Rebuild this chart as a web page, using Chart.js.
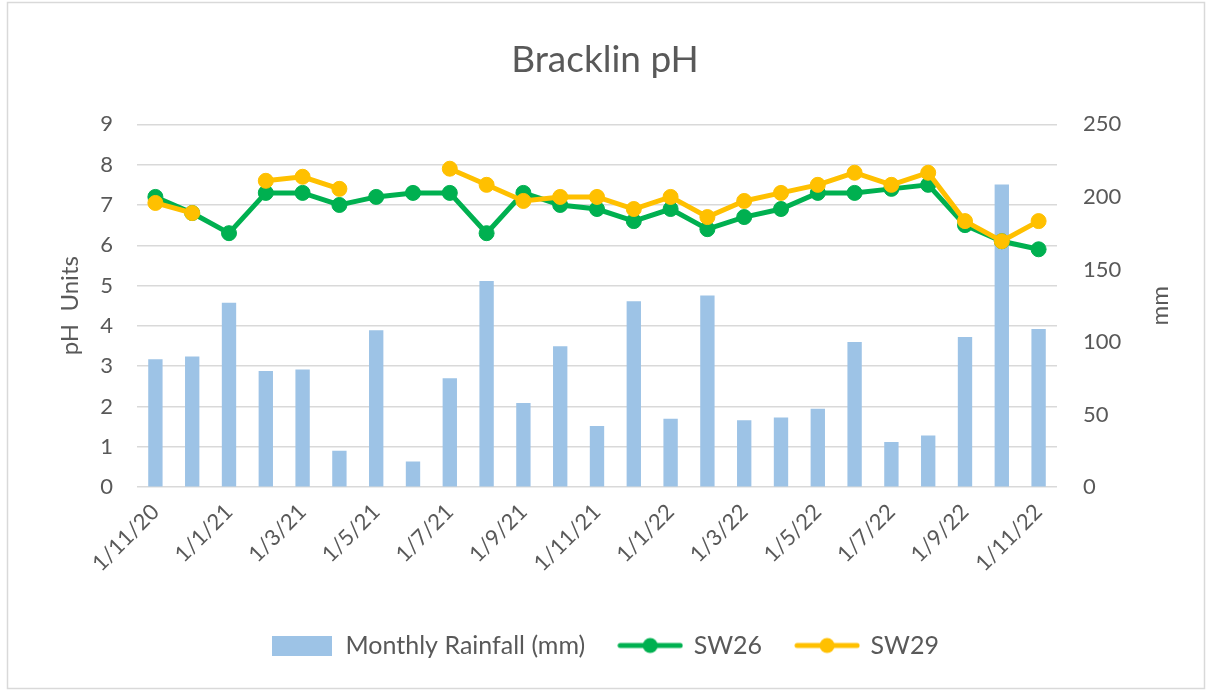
<!DOCTYPE html>
<html>
<head>
<meta charset="utf-8">
<script src="https://cdn.jsdelivr.net/npm/chart.js@4.4.1/dist/chart.umd.min.js"></script>
<style>
  html, body { margin: 0; padding: 0; background: #fff; }
  #wrap { width: 1210px; height: 693px; position: relative; }
</style>
</head>
<body>
<div id="wrap"><canvas id="ph-chart" width="1210" height="693"></canvas></div>
<script>
// months, Nov 2020 .. Nov 2022
var months = [
    '1/11/20', '1/12/20',
    '1/1/21', '1/2/21', '1/3/21', '1/4/21', '1/5/21', '1/6/21',
    '1/7/21', '1/8/21', '1/9/21', '1/10/21', '1/11/21', '1/12/21',
    '1/1/22', '1/2/22', '1/3/22', '1/4/22', '1/5/22', '1/6/22',
    '1/7/22', '1/8/22', '1/9/22', '1/10/22', '1/11/22'
];

var rainfall = [
    88, 90, 127, 80, 81, 25, 108, 17.5, 75, 142, 58, 97, 42,
    128, 47, 132, 46, 48, 54, 100, 31, 35.5, 103.5, 208.5, 109
];

var sw26 = [
    7.2, 6.8, 6.3, 7.3, 7.3, 7.0, 7.2, 7.3, 7.3, 6.3, 7.3, 7.0, 6.9,
    6.6, 6.9, 6.4, 6.7, 6.9, 7.3, 7.3, 7.4, 7.5, 6.5, 6.1, 5.9
];

var sw29 = [
    7.05, 6.8, null, 7.6, 7.7, 7.4, null, null, 7.9, 7.5, 7.1, 7.2, 7.2,
    6.9, 7.2, 6.7, 7.1, 7.3, 7.5, 7.8, 7.5, 7.8, 6.6, 6.1, 6.6
];

var phTicks = { min: 0, max: 9, step: 1 };
var mmTicks = { min: 0, max: 250, step: 50 };

const textColor = '#595959';
const fontFamily = 'Lato, "Open Sans", sans-serif';

Chart.defaults.font.family = fontFamily;
Chart.defaults.color = textColor;

// legend markers, drawn once on small canvases
function makeBoxMarker(color)
{
    const c = document.createElement('canvas');
    c.width = 60;
    c.height = 20;
    const g = c.getContext('2d');
    g.fillStyle = color;
    g.fillRect(0, 0, 60, 20);
    return c;
}

function makeLineMarker(color)
{
    const c = document.createElement('canvas');
    c.width = 66;
    c.height = 18;
    const g = c.getContext('2d');
    g.strokeStyle = color;
    g.lineWidth = 5;
    g.lineCap = 'round';
    g.beginPath();
    g.moveTo(3, 9);
    g.lineTo(63, 9);
    g.stroke();
    g.fillStyle = color;
    g.beginPath();
    g.arc(33, 9, 7.5, 0, Math.PI * 2);
    g.fill();
    return c;
}

const markers = [
    makeBoxMarker('#9DC3E6'),
    makeLineMarker('#00B050'),
    makeLineMarker('#FFC000')
];

// outer frame + right axis title that reads bottom to top like Excel
const framePlugin = {
    id: 'frame',
    beforeDraw(chart) {
        const ctx = chart.ctx;
        ctx.save();
        ctx.fillStyle = '#fff';
        ctx.fillRect(0, 0, chart.width, chart.height);
        ctx.strokeStyle = '#D9D9D9';
        ctx.lineWidth = 1.5;
        ctx.strokeRect(7.5, 2.5, chart.width - 13, chart.height - 7);
        ctx.restore();
    },
    afterDraw(chart) {
        const ctx = chart.ctx;
        const area = chart.chartArea;
        ctx.save();
        ctx.translate(1160, (area.top + area.bottom) / 2);
        ctx.rotate(-Math.PI / 2);
        ctx.fillStyle = textColor;
        ctx.font = '24px ' + fontFamily;
        ctx.textAlign = 'center';
        ctx.textBaseline = 'middle';
        ctx.fillText('mm', 0, 0);
        ctx.restore();
    }
};

const ctx = document.getElementById('ph-chart').getContext('2d');

new Chart(ctx, {
    type: 'bar',
    data: {
        labels: months,
        datasets: [
            {
                type: 'bar',
                label: 'Monthly Rainfall (mm)',
                data: rainfall,
                yAxisID: 'yMM',
                backgroundColor: '#9DC3E6',
                barPercentage: 0.39,
                categoryPercentage: 1,
                order: 3,
            },
            {
                type: 'line',
                label: 'SW26',
                data: sw26,
                yAxisID: 'yPH',
                borderColor: '#00B050',
                backgroundColor: '#00B050',
                borderWidth: 5,
                pointRadius: 7.5,
                pointBorderWidth: 1,
                pointBorderColor: '#00B050',
                pointBackgroundColor: '#00B050',
                order: 2,
            },
            {
                type: 'line',
                label: 'SW29',
                data: sw29,
                yAxisID: 'yPH',
                borderColor: '#FFC000',
                backgroundColor: '#FFC000',
                borderWidth: 5,
                pointRadius: 7.5,
                pointBorderWidth: 1,
                pointBorderColor: '#FFC000',
                pointBackgroundColor: '#FFC000',
                spanGaps: false,
                order: 1,
            }
        ]
    },
    options: {
        responsive: false,
        animation: false,
        layout: {
            padding: { left: 0, right: 0, top: 0, bottom: 25 }
        },
        scales: {
            x: {
                type: 'category',
                offset: true,
                grid: { display: false },
                border: { display: false },
                ticks: {
                    autoSkip: false,
                    minRotation: 45,
                    maxRotation: 45,
                    padding: 4,
                    font: { size: 22 },
                    color: textColor,
                    callback: function(val, i) {
                        return i % 2 === 0 ? months[i] : '';
                    }
                },
                afterFit: function(scale) {
                    scale.height = 112;
                }
            },
            yPH: {
                type: 'linear',
                position: 'left',
                min: phTicks.min,
                max: phTicks.max,
                ticks: {
                    stepSize: phTicks.step,
                    padding: 24,
                    font: { size: 22 },
                    color: textColor,
                },
                grid: {
                    color: '#D9D9D9',
                    lineWidth: 1.5,
                    drawTicks: false,
                },
                border: { display: false },
                title: {
                    display: true,
                    text: 'pH  Units',
                    color: textColor,
                    font: { size: 24 },
                    padding: { top: 56, bottom: 0 },
                },
                afterFit: function(scale) {
                    scale.width = 137;
                }
            },
            yMM: {
                type: 'linear',
                position: 'right',
                min: mmTicks.min,
                max: mmTicks.max,
                ticks: {
                    stepSize: mmTicks.step,
                    padding: 26,
                    font: { size: 22 },
                    color: textColor,
                },
                grid: { drawOnChartArea: false, drawTicks: false },
                border: { display: false },
                afterFit: function(scale) {
                    scale.width = 153;
                }
            }
        },
        plugins: {
            title: {
                display: true,
                text: 'Bracklin pH',
                color: textColor,
                font: { size: 37, weight: 'normal' },
                padding: { top: 38, bottom: 42 },
            },
            legend: {
                position: 'bottom',
                labels: {
                    usePointStyle: true,
                    pointStyleWidth: 62,
                    padding: 34,
                    font: { size: 25 },
                    color: textColor,
                    generateLabels: function(chart) {
                        var items = Chart.defaults.plugins.legend.labels.generateLabels(chart);
                        items.sort(function(a, b) { return a.datasetIndex - b.datasetIndex; });
                        items.forEach(function(item) {
                            item.pointStyle = markers[item.datasetIndex];
                        });
                        return items;
                    }
                }
            },
            tooltip: { enabled: false }
        }
    },
    plugins: [framePlugin]
});
</script>
</body>
</html>
